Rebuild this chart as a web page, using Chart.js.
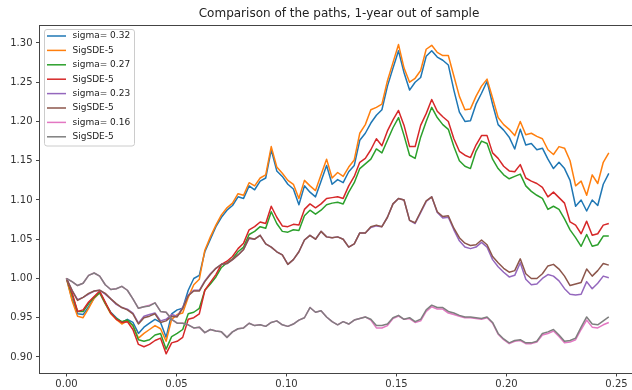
<!DOCTYPE html>
<html lang="en">

<head>
    <meta charset="UTF-8" />
    <title>Comparison of the paths, 1-year out of sample</title>
    <script src="https://cdn.jsdelivr.net/npm/chart.js"></script>
    <style>
        html, body { margin: 0; padding: 0; background: #fff; overflow: hidden; }
        #wrap { width: 648px; height: 390px; }
    </style>
</head>

<body>
    <div id="wrap"><canvas id="grafico" width="648" height="390"></canvas></div>

    <script>
        // time grid: 99 equally spaced steps up to T_END
        const T_END = 0.2465;
        const xTicks = [0.00, 0.05, 0.10, 0.15, 0.20, 0.25];
        const yTicks = [0.90, 0.95, 1.00, 1.05, 1.10, 1.15, 1.20, 1.25, 1.30];

        const seriesLabels = ["sigma= 0.32", "SigSDE-5", "sigma= 0.27", "SigSDE-5",
                              "sigma= 0.23", "SigSDE-5", "sigma= 0.16", "SigSDE-5"];
        const seriesColors = ["#1f77b4", "#ff7f0e", "#2ca02c", "#d62728",
                              "#9467bd", "#8c564b", "#e377c2", "#7f7f7f"];

        const sigma032 = [
            1.000,0.974,0.955,0.954,0.964,0.975,0.982,0.968,0.957,0.950,
            0.944,0.948,0.944,0.930,0.938,0.943,0.948,0.944,0.925,0.955,
            0.960,0.962,0.985,1.000,1.004,1.034,1.050,1.066,1.078,1.087,
            1.093,1.104,1.102,1.118,1.113,1.124,1.128,1.164,1.137,1.130,
            1.120,1.114,1.094,1.118,1.110,1.104,1.124,1.144,1.120,1.126,
            1.122,1.136,1.144,1.176,1.185,1.198,1.208,1.215,1.245,1.268,
            1.290,1.262,1.240,1.250,1.256,1.283,1.290,1.282,1.278,1.272,
            1.240,1.212,1.200,1.201,1.222,1.236,1.251,1.222,1.196,1.189,
            1.180,1.165,1.190,1.170,1.172,1.164,1.166,1.152,1.140,1.148,
            1.140,1.125,1.092,1.100,1.086,1.100,1.093,1.120,1.134];
        const sde032 = [
            1.000,0.972,0.952,0.950,0.962,0.975,0.982,0.968,0.955,0.948,
            0.942,0.946,0.940,0.924,0.930,0.935,0.940,0.936,0.920,0.948,
            0.954,0.956,0.976,0.992,0.999,1.036,1.053,1.068,1.081,1.090,
            1.096,1.108,1.106,1.122,1.118,1.128,1.132,1.168,1.142,1.134,
            1.125,1.120,1.102,1.125,1.118,1.112,1.132,1.152,1.128,1.135,
            1.130,1.142,1.151,1.185,1.196,1.215,1.218,1.222,1.252,1.275,
            1.298,1.268,1.250,1.255,1.265,1.292,1.297,1.288,1.284,1.284,
            1.258,1.232,1.215,1.216,1.232,1.245,1.254,1.230,1.205,1.196,
            1.190,1.182,1.200,1.183,1.185,1.181,1.178,1.164,1.158,1.168,
            1.166,1.150,1.118,1.124,1.106,1.132,1.121,1.148,1.160];
        const sigma027 = [
            1.000,0.980,0.958,0.958,0.968,0.976,0.982,0.969,0.956,0.949,
            0.945,0.947,0.940,0.922,0.920,0.922,0.928,0.930,0.910,0.926,
            0.930,0.935,0.955,0.957,0.962,0.985,0.993,1.002,1.014,1.020,
            1.025,1.034,1.040,1.056,1.060,1.066,1.064,1.085,1.070,1.060,
            1.059,1.062,1.061,1.080,1.087,1.082,1.087,1.094,1.096,1.097,
            1.095,1.110,1.122,1.140,1.146,1.152,1.165,1.160,1.176,1.192,
            1.205,1.182,1.157,1.153,1.180,1.200,1.218,1.205,1.196,1.190,
            1.168,1.150,1.143,1.140,1.162,1.175,1.172,1.152,1.140,1.132,
            1.127,1.130,1.133,1.118,1.111,1.106,1.102,1.088,1.092,1.088,
            1.076,1.062,1.052,1.041,1.056,1.041,1.043,1.054,1.054];
        const sde027 = [
            1.000,0.982,0.958,0.960,0.970,0.977,0.984,0.970,0.956,0.948,
            0.944,0.945,0.935,0.916,0.913,0.916,0.921,0.924,0.904,0.918,
            0.920,0.925,0.948,0.950,0.955,0.985,0.995,1.005,1.018,1.022,
            1.028,1.038,1.045,1.062,1.066,1.072,1.070,1.092,1.078,1.067,
            1.066,1.069,1.068,1.088,1.095,1.090,1.095,1.102,1.103,1.104,
            1.102,1.118,1.130,1.148,1.153,1.164,1.178,1.169,1.188,1.202,
            1.214,1.195,1.168,1.168,1.195,1.210,1.228,1.213,1.206,1.200,
            1.178,1.162,1.157,1.154,1.170,1.182,1.182,1.160,1.153,1.143,
            1.137,1.136,1.145,1.128,1.124,1.121,1.116,1.104,1.110,1.103,
            1.096,1.072,1.068,1.057,1.073,1.055,1.057,1.068,1.070];
        const sigma023 = [
            1.000,0.985,0.973,0.976,0.980,0.984,0.985,0.980,0.974,0.967,
            0.963,0.961,0.956,0.943,0.952,0.954,0.956,0.946,0.948,0.954,
            0.952,0.963,0.979,0.985,0.985,0.997,1.006,1.013,1.018,1.019,
            1.024,1.030,1.037,1.051,1.050,1.055,1.044,1.040,1.034,1.030,
            1.018,1.024,1.034,1.049,1.055,1.050,1.060,1.053,1.052,1.053,
            1.050,1.040,1.044,1.058,1.058,1.065,1.067,1.066,1.078,1.095,
            1.102,1.100,1.074,1.070,1.084,1.098,1.104,1.084,1.077,1.078,
            1.062,1.048,1.040,1.038,1.040,1.046,1.040,1.024,1.015,1.008,
            1.002,1.004,1.020,0.999,0.992,0.993,1.000,1.005,1.003,0.997,
            0.987,0.980,0.979,0.980,0.996,0.987,0.994,1.003,1.001];
        const sde023 = [
            1.000,0.985,0.972,0.976,0.981,0.984,0.985,0.981,0.974,0.968,
            0.963,0.960,0.955,0.942,0.950,0.952,0.955,0.944,0.946,0.952,
            0.951,0.962,0.978,0.984,0.984,0.996,1.005,1.013,1.018,1.019,
            1.024,1.030,1.037,1.052,1.050,1.055,1.044,1.040,1.034,1.030,
            1.018,1.024,1.034,1.049,1.055,1.050,1.060,1.053,1.052,1.053,
            1.050,1.040,1.044,1.058,1.058,1.066,1.068,1.066,1.078,1.095,
            1.102,1.100,1.074,1.071,1.085,1.099,1.104,1.085,1.079,1.080,
            1.064,1.052,1.045,1.042,1.043,1.049,1.043,1.028,1.020,1.013,
            1.008,1.010,1.025,1.006,1.000,1.000,1.006,1.016,1.018,1.012,
            1.003,0.991,0.993,0.995,1.012,1.003,1.010,1.019,1.017];
        const sigma016 = [
            1.000,0.996,0.991,0.994,1.004,1.007,1.003,0.992,0.986,0.987,
            0.990,0.985,0.974,0.962,0.964,0.966,0.969,0.958,0.957,0.948,
            0.943,0.943,0.941,0.937,0.938,0.931,0.935,0.933,0.932,0.925,
            0.932,0.936,0.937,0.943,0.940,0.941,0.939,0.944,0.946,0.941,
            0.939,0.942,0.947,0.950,0.963,0.957,0.959,0.951,0.945,0.941,
            0.945,0.942,0.947,0.949,0.951,0.947,0.937,0.937,0.940,0.949,
            0.952,0.948,0.949,0.944,0.946,0.958,0.964,0.961,0.961,0.956,
            0.954,0.952,0.950,0.950,0.949,0.948,0.950,0.943,0.929,0.922,
            0.917,0.920,0.921,0.917,0.917,0.919,0.928,0.930,0.933,0.926,
            0.918,0.919,0.922,0.935,0.947,0.938,0.937,0.941,0.944];
        const sde016 = [
            1.000,0.996,0.991,0.994,1.004,1.007,1.003,0.992,0.986,0.987,
            0.990,0.985,0.974,0.962,0.964,0.965,0.969,0.958,0.957,0.948,
            0.943,0.943,0.941,0.937,0.938,0.931,0.935,0.933,0.932,0.925,
            0.932,0.936,0.937,0.943,0.940,0.941,0.939,0.944,0.946,0.941,
            0.939,0.942,0.947,0.950,0.963,0.957,0.959,0.951,0.945,0.941,
            0.945,0.942,0.947,0.949,0.951,0.948,0.940,0.940,0.942,0.950,
            0.953,0.948,0.950,0.945,0.948,0.960,0.966,0.963,0.963,0.958,
            0.956,0.953,0.951,0.951,0.950,0.949,0.951,0.944,0.930,0.923,
            0.918,0.921,0.922,0.918,0.918,0.920,0.930,0.932,0.935,0.928,
            0.920,0.921,0.924,0.938,0.951,0.942,0.941,0.946,0.951];

        const allSeries = [sigma032, sde032, sigma027, sde027, sigma023, sde023, sigma016, sde016];

        const fonte = "DejaVu Sans";
        const passo = T_END / (sigma032.length - 1);

        // matplotlib style: later lines on top, so lower 'order' for later datasets
        const datasets = allSeries.map((serie, k) => ({
            label: seriesLabels[k],
            data: serie.map((v, i) => ({ x: i * passo, y: v })),
            borderColor: seriesColors[k],
            backgroundColor: seriesColors[k],
            borderWidth: 1.5,
            borderJoinStyle: 'round',
            pointRadius: 0,
            tension: 0,
            fill: false,
            order: allSeries.length - k
        }));

        // top spine + legend box in the upper left corner
        const moldura = {
            id: 'moldura',
            afterDatasetsDraw(chart) {
                const { ctx, chartArea: a } = chart;
                ctx.save();
                ctx.strokeStyle = '#444';
                ctx.lineWidth = 1;
                ctx.beginPath();
                ctx.moveTo(a.left, a.top + 0.5);
                ctx.lineTo(a.right, a.top + 0.5);
                ctx.stroke();

                const bx = 44.5, by = 29.5, bw = 90, bh = 116.5, r = 2.5;
                ctx.beginPath();
                ctx.moveTo(bx + r, by);
                ctx.lineTo(bx + bw - r, by);
                ctx.quadraticCurveTo(bx + bw, by, bx + bw, by + r);
                ctx.lineTo(bx + bw, by + bh - r);
                ctx.quadraticCurveTo(bx + bw, by + bh, bx + bw - r, by + bh);
                ctx.lineTo(bx + r, by + bh);
                ctx.quadraticCurveTo(bx, by + bh, bx, by + bh - r);
                ctx.lineTo(bx, by + r);
                ctx.quadraticCurveTo(bx, by, bx + r, by);
                ctx.closePath();
                ctx.fillStyle = 'rgba(255,255,255,0.8)';
                ctx.fill();
                ctx.strokeStyle = '#cccccc';
                ctx.stroke();

                ctx.font = '9px "' + fonte + '"';
                ctx.textBaseline = 'middle';
                ctx.textAlign = 'left';
                seriesLabels.forEach((txt, k) => {
                    const y = 36 + 14.4 * k;
                    ctx.strokeStyle = seriesColors[k];
                    ctx.lineWidth = 1.5;
                    ctx.beginPath();
                    ctx.moveTo(47, y);
                    ctx.lineTo(66, y);
                    ctx.stroke();
                    ctx.fillStyle = '#222';
                    ctx.fillText(txt, 72.5, y);
                });
                ctx.restore();
            }
        };

        const ctx = document.getElementById("grafico").getContext("2d");
        new Chart(ctx, {
            type: 'line',
            data: { datasets: datasets },
            plugins: [moldura],
            options: {
                responsive: false,
                animation: false,
                devicePixelRatio: 1,
                layout: { padding: { left: 0, right: 9.5, top: 0, bottom: 0 } },
                scales: {
                    x: {
                        type: 'linear',
                        min: -0.01227,
                        max: 0.26,
                        afterBuildTicks: s => { s.ticks = xTicks.map(v => ({ value: v })); },
                        afterFit: s => { s.height = 17; },
                        ticks: {
                            callback: v => v.toFixed(2),
                            color: '#333',
                            font: { family: fonte, size: 10 },
                            padding: 2,
                            maxRotation: 0,
                            autoSkip: false
                        },
                        grid: { drawOnChartArea: false, drawTicks: true, tickLength: 3.5, color: '#444' },
                        border: { display: true, color: '#444', width: 1 }
                    },
                    y: {
                        min: 0.8796,
                        max: 1.3229,
                        afterBuildTicks: s => { s.ticks = yTicks.map(v => ({ value: v })); },
                        afterFit: s => { s.width = 39.5; },
                        ticks: {
                            callback: v => v.toFixed(2),
                            color: '#333',
                            font: { family: fonte, size: 10 },
                            padding: 3.5,
                            autoSkip: false
                        },
                        grid: { drawOnChartArea: false, drawTicks: true, tickLength: 3.5, color: '#444' },
                        border: { display: true, color: '#444', width: 1 }
                    }
                },
                plugins: {
                    legend: { display: false },
                    tooltip: { enabled: false },
                    title: {
                        display: true,
                        fullSize: false,
                        text: 'Comparison of the paths, 1-year out of sample',
                        color: '#222',
                        font: { family: fonte, size: 12, weight: 'normal' },
                        padding: { top: 7, bottom: 3.6 }
                    }
                }
            }
        });
    </script>
</body>

</html>
